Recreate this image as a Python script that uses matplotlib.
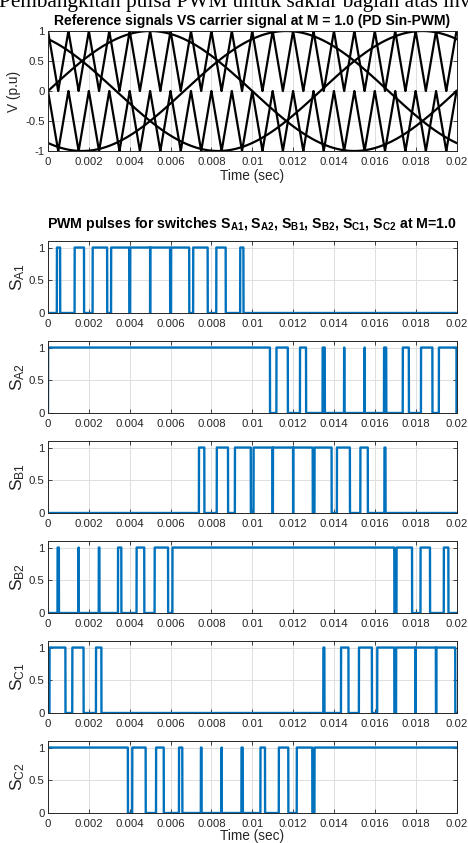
import numpy as np
import matplotlib.pyplot as plt
from matplotlib.ticker import FuncFormatter

plt.rcParams['font.family'] = ['Liberation Sans', 'DejaVu Sans']
plt.rcParams['mathtext.fontset'] = 'custom'
plt.rcParams['mathtext.rm'] = 'Liberation Sans'
plt.rcParams['mathtext.it'] = 'Liberation Sans:italic'
plt.rcParams['mathtext.bf'] = 'Liberation Sans:bold'

# signal parameters
mod_index = 1.0          # M = 1.0
f_ref = 50               # one period in 0.02 s
f_carrier = 1000         # 20 carrier periods in 0.02 s
t_end = 0.02
samples_per_carrier = 1000
phase_names = ['A', 'B', 'C']
phase_deg = [0, -120, 120]

x_ticks = [0, 0.002, 0.004, 0.006, 0.008, 0.01, 0.012, 0.014, 0.016, 0.018, 0.02]
top_yticks = [-1, -0.5, 0, 0.5, 1]
pulse_yticks = [0, 0.5, 1]

caption = 'Pembangkitan pulsa PWM untuk saklar bagian atas inverter'
top_title = 'Reference signals VS carrier signal at M = 1.0 (PD Sin-PWM)'
pulse_title = (r'PWM pulses for switches S$_{\mathbf{A1}}$, S$_{\mathbf{A2}}$, '
               r'S$_{\mathbf{B1}}$, S$_{\mathbf{B2}}$, S$_{\mathbf{C1}}$, '
               r'S$_{\mathbf{C2}}$ at M=1.0')

# time base and signals
n = int(round(t_end * f_carrier * samples_per_carrier))
k = np.arange(n + 1)
t = k / (f_carrier * samples_per_carrier)
upper_carrier = np.abs(2 * (k % samples_per_carrier) / samples_per_carrier - 1)
lower_carrier = upper_carrier - 1
refs = [mod_index * np.sin(2 * np.pi * f_ref * t + np.deg2rad(p)) for p in phase_deg]

pulses = []
for name, r in zip(phase_names, refs):
    pulses.append(('S$_{\\mathrm{%s1}}$' % name, (r > upper_carrier).astype(float)))
    pulses.append(('S$_{\\mathrm{%s2}}$' % name, (r > lower_carrier).astype(float)))

W, H = 468, 843
fig = plt.figure(figsize=(W / 100, H / 100), dpi=100)
dark = '#262626'
blue = '#0072BD'


def add_px_axes(left, top, right, bottom):
    return fig.add_axes([left / W, 1 - bottom / H, (right - left) / W, (bottom - top) / H])


def style(ax):
    ax.grid(True, color='#dedede', linewidth=0.7)
    ax.set_axisbelow(True)
    ax.tick_params(direction='in', top=True, right=True, length=3, width=0.6,
                   labelsize=8.2, colors=dark)
    ax.tick_params(axis='x', pad=4.5)
    ax.tick_params(axis='y', pad=2.5)
    for s in ax.spines.values():
        s.set_color(dark)
        s.set_linewidth(0.7)
    ax.set_xlim(0, t_end)
    ax.set_xticks(x_ticks)
    fmt = FuncFormatter(lambda v, _: ('%g' % v).replace('\u2212', '-'))
    ax.xaxis.set_major_formatter(fmt)
    ax.yaxis.set_major_formatter(fmt)


# top plot: references and carriers
ax0 = add_px_axes(48, 31, 456.5, 151)
ax0.plot(t, upper_carrier, color='black', lw=1.6)
ax0.plot(t, lower_carrier, color='black', lw=1.6)
for r in refs:
    ax0.plot(t, r, color='black', lw=1.6)
style(ax0)
ax0.set_ylim(-1, 1)
ax0.set_yticks(top_yticks)
ax0.set_ylabel('V (p.u)', fontsize=9.8, color=dark, labelpad=3)
ax0.set_xlabel('Time (sec)', fontsize=9.8, color=dark, labelpad=1)

fig.text(-1 / W, 1 - 7 / H, caption, family='Liberation Serif', fontsize=15.3,
         va='baseline', ha='left')
fig.text(252 / W, 1 - 25 / H, top_title, fontsize=10, fontweight='bold',
         ha='center', va='baseline')
fig.text(252 / W, 1 - 228 / H, pulse_title, fontsize=10.2, fontweight='bold',
         ha='center', va='baseline')

# pulse plots
for i, (label, p) in enumerate(pulses):
    top = 241 + 100 * i
    ax = add_px_axes(48, top, 456.5, top + 72)
    ax.plot(t, p, color=blue, lw=1.7)
    style(ax)
    ax.set_ylim(0, 1.1)
    ax.set_yticks(pulse_yticks)
    ax.set_ylabel(label, fontsize=12.5, color=dark, labelpad=1)
    if i == len(pulses) - 1:
        ax.set_xlabel('Time (sec)', fontsize=9.8, color=dark, labelpad=0)

fig.savefig('out.png', dpi=100, facecolor='white')
